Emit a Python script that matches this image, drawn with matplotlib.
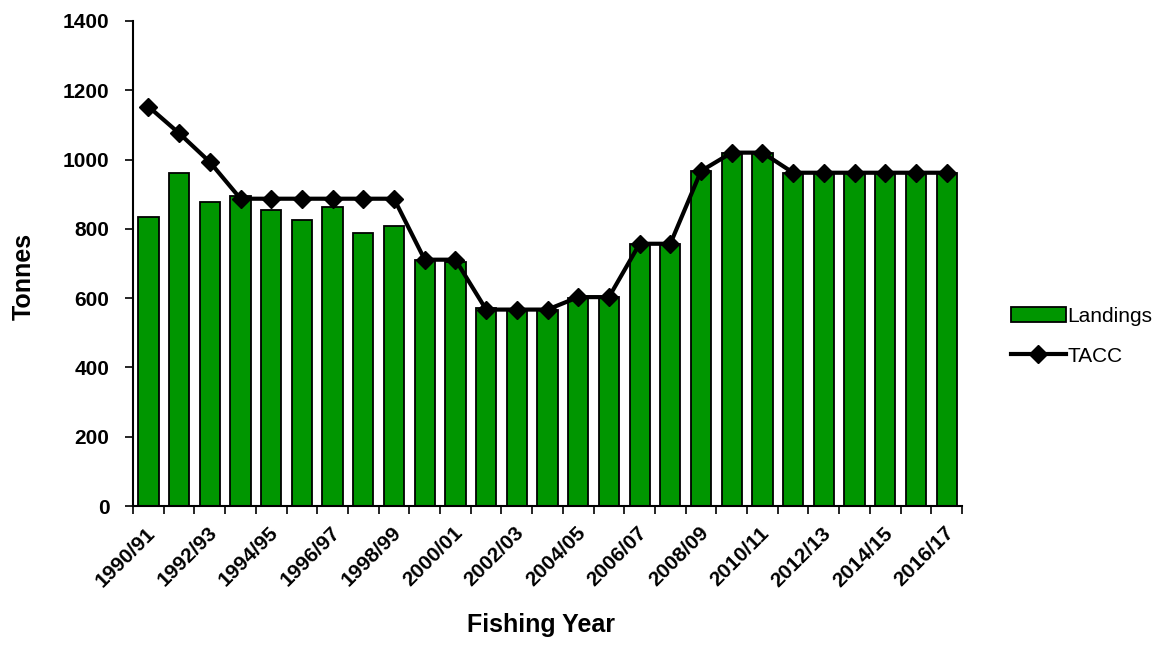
import matplotlib
matplotlib.use("Agg")
import matplotlib.pyplot as plt
from matplotlib.lines import Line2D
from matplotlib.patches import Patch
import numpy as np

plt.rcParams['font.family'] = ['Liberation Sans Narrow', 'Liberation Sans', 'DejaVu Sans']

years = ["1990/91", "1991/92", "1992/93", "1993/94", "1994/95", "1995/96", "1996/97",
         "1997/98", "1998/99", "1999/00", "2000/01", "2001/02", "2002/03", "2003/04",
         "2004/05", "2005/06", "2006/07", "2007/08", "2008/09", "2009/10", "2010/11",
         "2011/12", "2012/13", "2013/14", "2014/15", "2015/16", "2016/17"]
landings = [835, 962, 877, 896, 855, 825, 864, 787, 809, 711, 704, 572, 567, 567,
            600, 603, 755, 755, 967, 1020, 1020, 962, 962, 962, 962, 962, 962]
tacc = [1153, 1076, 993, 887, 887, 887, 887, 887, 887, 711, 711, 567, 567, 567,
        603, 603, 757, 757, 967, 1020, 1020, 962, 962, 962, 962, 962, 962]
y_ticks = [0, 200, 400, 600, 800, 1000, 1200, 1400]

green = "#009600"

fig = plt.figure(figsize=(11.61, 6.66), dpi=100)
ax = fig.add_axes([0.1146, 0.2402, 0.714, 0.7283])

x = np.arange(len(years))
ax.bar(x, landings, width=0.66, color=green, edgecolor="black", linewidth=1.3, zorder=2)
ax.plot(x, tacc, color="black", linewidth=3, marker="D", markersize=9,
        markerfacecolor="black", markeredgecolor="black", zorder=3)

ax.set_xlim(-0.5, len(years) - 0.5)
ax.set_ylim(0, 1400)
ax.set_yticks(y_ticks)
ax.set_yticklabels([str(v) for v in y_ticks], fontsize=15, fontweight="bold")

# ticks sit on category boundaries, labels on every other category
ax.set_xticks(np.arange(len(years) + 1) - 0.5)
ax.set_xticklabels([])
ax.tick_params(axis="x", direction="out", length=6, width=1.2)
ax.tick_params(axis="y", direction="out", length=6, width=1.2, pad=11)
for i in range(0, len(years), 2):
    ax.text(i - 0.08, -50, years[i], rotation=45, ha="right", va="top",
            rotation_mode="anchor", fontsize=15, fontweight="bold",
            transform=ax.transData)

for side in ("top", "right"):
    ax.spines[side].set_visible(False)
for side in ("left", "bottom"):
    ax.spines[side].set_linewidth(1.5)

fig.text(24 / 1161, 1 - 276 / 666, "Tonnes", rotation=90, ha="center", va="center",
         fontsize=18, fontweight="bold")
fig.text(0.466, 0.062, "Fishing Year", ha="center", va="center",
         fontsize=18, fontweight="bold")

handles = [Patch(facecolor=green, edgecolor="black", linewidth=1.3, label="Landings"),
           Line2D([0], [0], color="black", linewidth=3, marker="D", markersize=9,
                  label="TACC")]
fig.legend(handles=handles, loc="center left", bbox_to_anchor=(0.855, 0.495),
           frameon=False, fontsize=15, handlelength=2.6, handletextpad=0.1,
           labelspacing=1.0)

fig.savefig("out.png", dpi=100)
